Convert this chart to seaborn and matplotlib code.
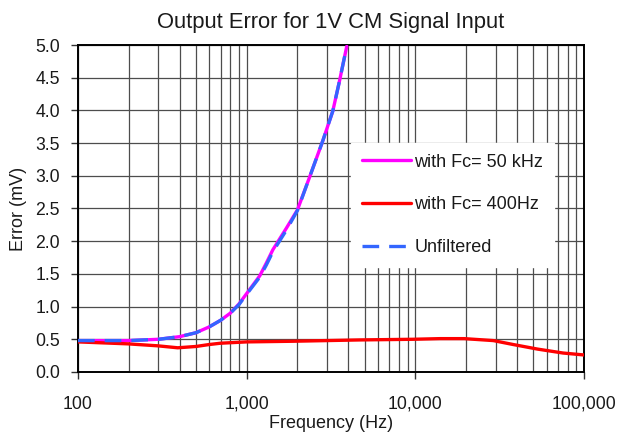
import matplotlib
matplotlib.use('Agg')
import matplotlib.pyplot as plt
import matplotlib.ticker as mticker
import seaborn as sns
import numpy as np

sns.set_style('white')
plt.rcParams['font.family'] = ['Liberation Sans', 'DejaVu Sans']

# Data
freq_rise = [100, 200, 300, 400, 500, 600, 700, 800, 900, 1000, 1195, 1310, 1430,
             1720, 2000, 2360, 2830, 3240, 3550, 3920]
err_50khz = [0.48, 0.48, 0.50, 0.54, 0.60, 0.69, 0.79, 0.90, 1.04, 1.20, 1.47, 1.67, 1.87,
             2.20, 2.48, 2.98, 3.54, 3.99, 4.45, 4.98]
err_unfiltered = [0.48, 0.48, 0.50, 0.54, 0.60, 0.69, 0.79, 0.90, 1.03, 1.19, 1.45, 1.64, 1.84,
                  2.17, 2.47, 2.98, 3.54, 3.99, 4.45, 4.98]

freq_400 = [100, 198, 297, 390, 500, 600, 700, 1000, 1880, 4660, 9600, 14000, 19500,
            29000, 38000, 53000, 75000, 100000]
err_400hz = [0.46, 0.43, 0.40, 0.37, 0.39, 0.42, 0.44, 0.46, 0.47, 0.49, 0.50, 0.51, 0.51,
             0.48, 0.42, 0.35, 0.29, 0.26]

fig, ax = plt.subplots(figsize=(6.22, 4.34), dpi=100)
fig.subplots_adjust(left=0.1254, right=0.939, bottom=0.1429, top=0.8963)

sns.lineplot(x=freq_rise, y=err_50khz, ax=ax, color='#ff00ff', lw=2.4,
             label='with Fc= 50 kHz', zorder=3)
sns.lineplot(x=freq_400, y=err_400hz, ax=ax, color='#ff0000', lw=2.4,
             label='with Fc= 400Hz', zorder=3)
sns.lineplot(x=freq_rise, y=err_unfiltered, ax=ax, color='#3366ff', lw=2.4,
             linestyle=(0, (5, 3)), label='Unfiltered', zorder=4)

ax.set_xscale('log')
ax.set_xlim(100, 100000)
ax.set_ylim(0, 5)
ax.set_yticks(np.arange(0, 5.01, 0.5))
ax.yaxis.set_major_formatter(mticker.FormatStrFormatter('%.1f'))
ax.xaxis.set_major_locator(mticker.LogLocator(base=10))
ax.xaxis.set_minor_locator(mticker.LogLocator(base=10, subs=np.arange(2, 10)))
ax.xaxis.set_major_formatter(mticker.FuncFormatter(lambda v, p: f'{v:,.0f}'))
ax.xaxis.set_minor_formatter(mticker.NullFormatter())

ax.grid(which='major', color='#4d4d4d', lw=0.9)
ax.grid(which='minor', axis='x', color='#4d4d4d', lw=0.9)
ax.set_axisbelow(True)

for sp in ax.spines.values():
    sp.set_color('black')
    sp.set_linewidth(1.4)

ax.tick_params(which='major', bottom=True, left=True, direction='out', length=5,
               width=1, color='#333333', labelsize=12.7, labelcolor='#1a1a1a', pad=8)
ax.tick_params(axis='x', which='major', pad=12)
ax.tick_params(which='minor', length=0)

ax.set_title('Output Error for 1V CM Signal Input', fontsize=15.8, color='#1a1a1a', pad=12)
ax.set_xlabel('Frequency (Hz)', fontsize=13, color='#1a1a1a', labelpad=2)
ax.set_ylabel('Error (mV)', fontsize=13, color='#1a1a1a', labelpad=6)

leg = ax.legend(loc='upper left', bbox_to_anchor=(0.522, 0.728), frameon=True,
                fancybox=False, framealpha=1, facecolor='white', edgecolor='white',
                fontsize=13, handlelength=2.7, handletextpad=0.2, labelspacing=1.42,
                borderpad=0.6)
for t in leg.get_texts():
    t.set_color('#1a1a1a')

plt.savefig('out.png', dpi=100)
plt.close()
